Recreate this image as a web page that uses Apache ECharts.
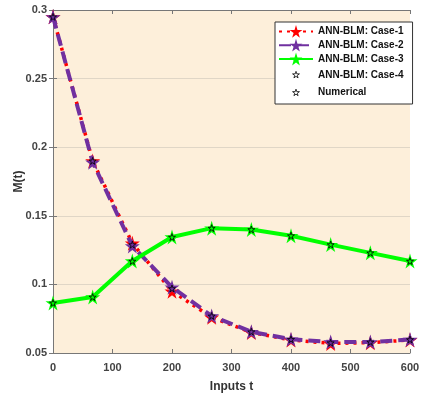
<!DOCTYPE html>
<html><head><meta charset="utf-8">
<script src="https://cdn.jsdelivr.net/npm/echarts@6/dist/echarts.min.js"></script>
<style>html,body{margin:0;padding:0;background:#fff}#c{width:426px;height:402px}</style>
</head><body><div id="c"></div>
<script>
var tValues = [0, 66.67, 133.33, 200, 266.67, 333.33, 400, 466.67, 533.33, 600];
var case1 = [0.295, 0.190, 0.130, 0.095, 0.076, 0.065, 0.0595, 0.057, 0.0575, 0.0595];
var case2 = [0.295, 0.189, 0.128, 0.098, 0.077, 0.0655, 0.060, 0.058, 0.058, 0.0598];
var case3 = [0.0865, 0.0908, 0.117, 0.1345, 0.141, 0.140, 0.1355, 0.129, 0.123, 0.117];
var case4 = case3.slice();
var numerical = [0.295, 0.190, 0.129, 0.097, 0.077, 0.0655, 0.060, 0.0575, 0.058, 0.0598];
var xTicks = [0, 100, 200, 300, 400, 500, 600];
var yTicks = [0.05, 0.1, 0.15, 0.2, 0.25, 0.3];

var star = 'path://M50,0 L61,35 L98,35 L68,57 L79,91 L50,70 L21,91 L32,57 L2,35 L39,35 Z';
var smallStarIcon = 'path://M0,0 L0,0 M112,112 L112,112 M56,32 L61.5,49.5 L80,49.5 L65,60.5 L70.5,77.5 L56,67 L41.5,77.5 L47,60.5 L32,49.5 L50.5,49.5 Z';
function pairs(arr){ return tValues.map(function(t,i){ return [t, arr[i]]; }); }
var font = 'Liberation Sans';
var hollow = { color: '#fff', borderColor: '#000', borderWidth: 0.8 };
var chart = echarts.init(document.getElementById('c'));
chart.setOption({
  animation: false,
  backgroundColor: '#fff',
  grid: { left: 53, top: 10, right: 16, bottom: 49, show: true, backgroundColor: '#FDEFDA', borderWidth: 0, outerBoundsMode: 'none', containLabel: false },
  legend: {
    orient: 'vertical', left: 275, top: 22, itemWidth: 34, itemHeight: 16, itemGap: 1,
    padding: [3, 9, 3, 3],
    backgroundColor: '#fff', borderColor: '#333', borderWidth: 1,
    textStyle: { fontFamily: font, fontWeight: 'bold', fontSize: 10, color: '#111' },
    data: ['ANN-BLM: Case-1', 'ANN-BLM: Case-2', 'ANN-BLM: Case-3',
      { name: 'ANN-BLM: Case-4', icon: smallStarIcon, itemStyle: hollow },
      { name: 'Numerical', icon: smallStarIcon, itemStyle: hollow }]
  },
  xAxis: [{
    type: 'value', min: 0, max: 600, interval: 100,
    name: 'Inputs t', nameLocation: 'middle', nameGap: 28, nameMoveOverlap: false,
    nameTextStyle: { fontFamily: font, fontWeight: 'bold', fontSize: 12, color: '#333' },
    axisLine: { show: true, lineStyle: { color: '#777', width: 1 } },
    axisTick: { show: true, inside: true, length: 4, lineStyle: { color: '#777' } },
    axisLabel: { fontFamily: font, fontWeight: 'bold', fontSize: 11, color: '#444', margin: 9,
      formatter: function(v){ return xTicks.indexOf(v) >= 0 ? String(v) : ''; } },
    splitLine: { show: false }
  }, {
    type: 'value', min: 0, max: 600, interval: 100, position: 'top',
    axisLine: { show: true, lineStyle: { color: '#777', width: 1 } },
    axisTick: { show: true, inside: true, length: 4, lineStyle: { color: '#777' } },
    axisLabel: { show: false }, splitLine: { show: false }
  }],
  yAxis: [{
    type: 'value', min: 0.05, max: 0.3, interval: 0.05,
    name: 'M(t)', nameLocation: 'middle', nameGap: 28, nameMoveOverlap: false,
    nameTextStyle: { fontFamily: font, fontWeight: 'bold', fontSize: 12, color: '#333' },
    axisLine: { show: true, lineStyle: { color: '#777', width: 1 } },
    axisTick: { show: true, inside: true, length: 4, lineStyle: { color: '#777' } },
    axisLabel: { fontFamily: font, fontWeight: 'bold', fontSize: 11, color: '#444', margin: 6,
      formatter: function(v){ var r = Math.round(v*100)/100; return String(r); } },
    splitLine: { show: true, lineStyle: { color: '#E0D6C6', width: 1 } }
  }, {
    type: 'value', min: 0.05, max: 0.3, interval: 0.05, position: 'right',
    axisLine: { show: true, lineStyle: { color: '#777', width: 1 } },
    axisTick: { show: true, inside: true, length: 4, lineStyle: { color: '#777' } },
    axisLabel: { show: false }, splitLine: { show: false }
  }],
  series: [
    { name: 'ANN-BLM: Case-1', type: 'line', data: pairs(case1), symbol: star, symbolSize: 15,
      itemStyle: { color: '#FF0000' }, lineStyle: { color: '#FF0000', width: 3.5, type: [3, 5] }, z: 2 },
    { name: 'ANN-BLM: Case-2', type: 'line', data: pairs(case2), symbol: star, symbolSize: 15,
      itemStyle: { color: '#7030A0' }, lineStyle: { color: '#7030A0', width: 4, type: [12, 6] }, z: 3 },
    { name: 'ANN-BLM: Case-3', type: 'line', data: pairs(case3), symbol: star, symbolSize: 15,
      itemStyle: { color: '#00FF00' }, lineStyle: { color: '#00FF00', width: 4 }, z: 4 },
    { name: 'ANN-BLM: Case-4', type: 'line', data: pairs(case4), symbol: star, symbolSize: 7,
      itemStyle: { color: 'rgba(0,0,0,0)', borderColor: '#000', borderWidth: 0.8 },
      lineStyle: { width: 0, opacity: 0 }, z: 5 },
    { name: 'Numerical', type: 'line', data: pairs(numerical), symbol: star, symbolSize: 7,
      itemStyle: { color: 'rgba(0,0,0,0)', borderColor: '#000', borderWidth: 0.8 },
      lineStyle: { width: 0, opacity: 0 }, z: 5 }
  ]
});
</script></body></html>
